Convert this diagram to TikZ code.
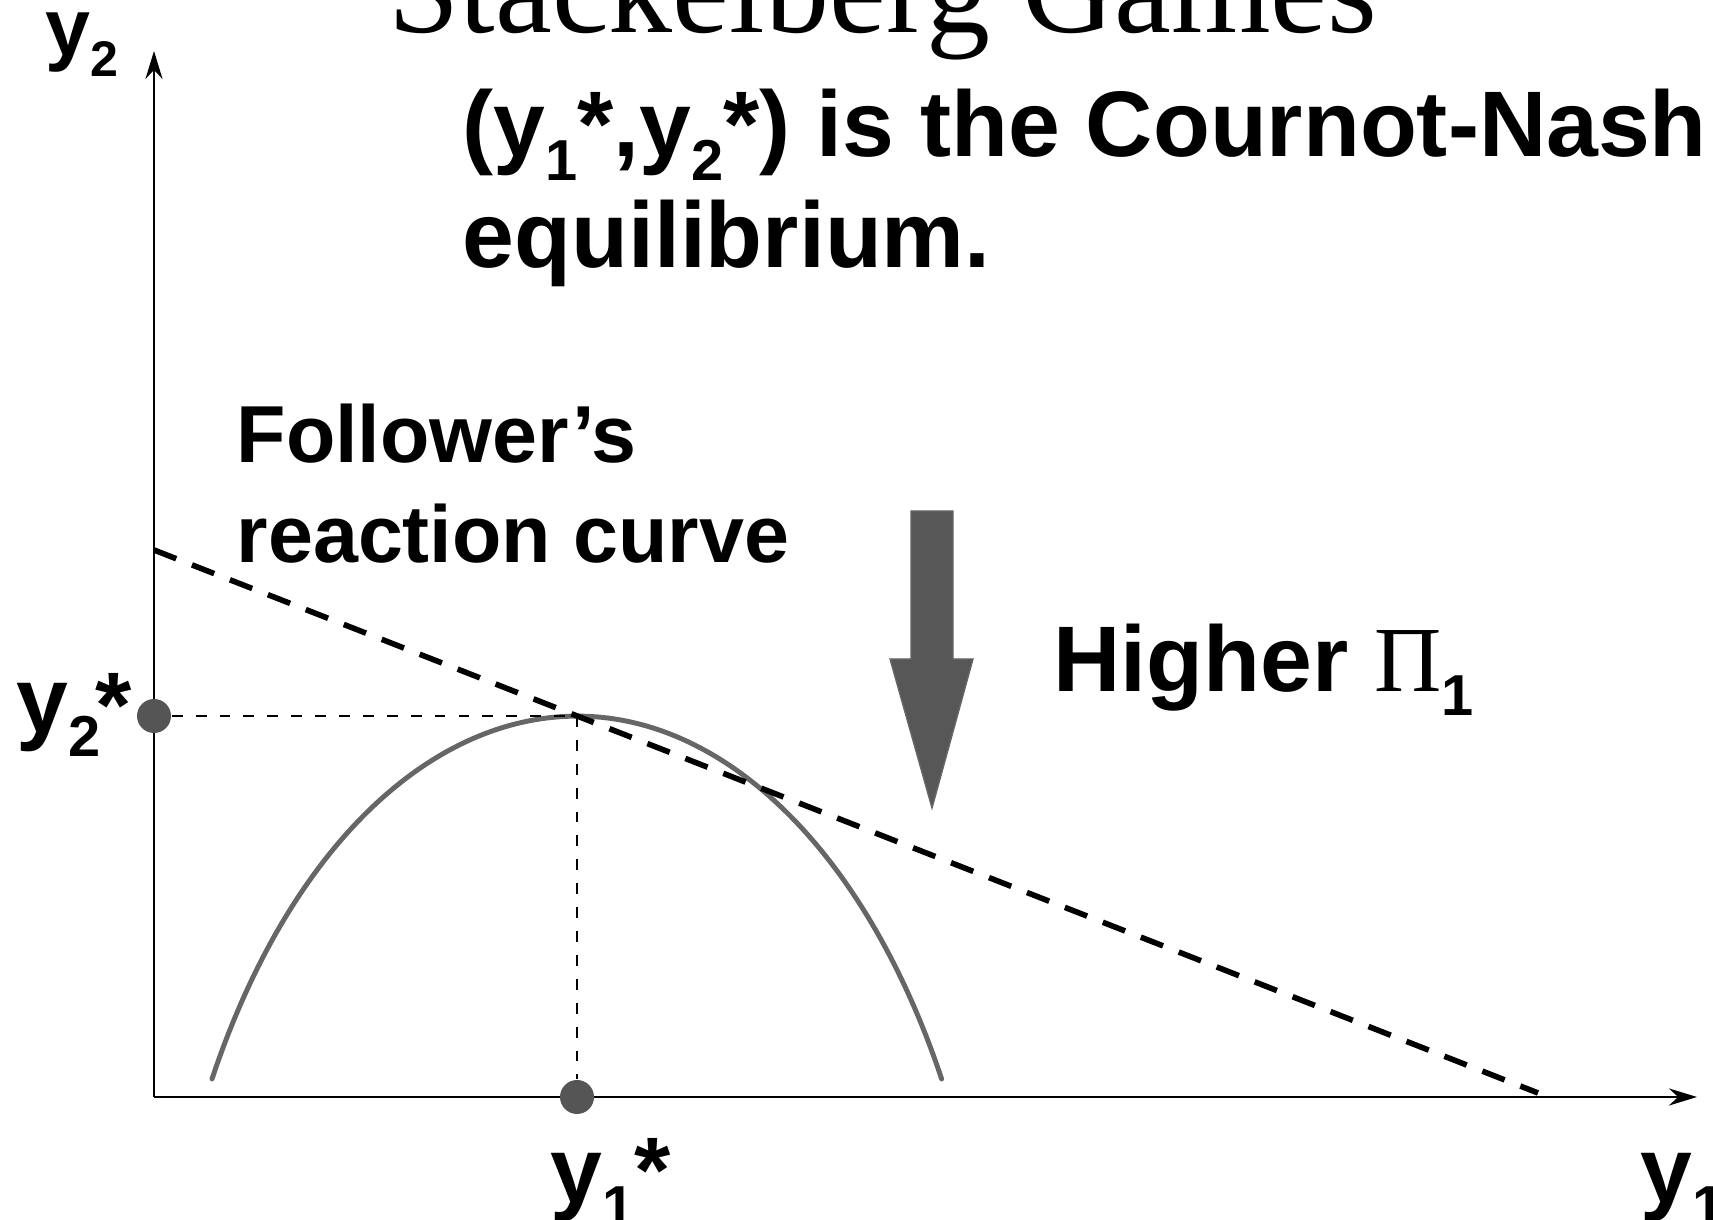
\documentclass[tikz,border=0pt]{standalone}
\usepackage{fontspec}
\setmainfont{Liberation Sans}
\newfontfamily\seriffont{Liberation Serif}
\usetikzlibrary{arrows.meta}
\definecolor{ink}{HTML}{000000}
\definecolor{dotgrey}{HTML}{555555}
\definecolor{curvegrey}{HTML}{666666}
\definecolor{shaftgrey}{HTML}{575757}
\newcommand{\dn}[1]{\raisebox{-.25em}{\scalebox{.62}{#1}}}

\begin{document}
\begin{tikzpicture}[text=ink,inner sep=0pt,
  >={Stealth[length=2.8mm,width=1.7mm]},
  big/.style={font=\fontsize{26.5}{31}\selectfont\bfseries,anchor=base west},
  small/.style={font=\fontsize{23}{27}\selectfont\bfseries,anchor=base west},
  dot/.style={circle,fill=dotgrey,minimum size=3.4mm},
  axis/.style={line width=.85pt,->},
  guide/.style={line width=.7pt,dash pattern=on 3.1pt off 3.7pt},
  react/.style={line width=1.6pt,dash pattern=on 6.8pt off 4.8pt},
  isoprofit/.style={curvegrey,line width=1.4pt,line cap=round}]
  \useasboundingbox (0,0) rectangle (17.13,12.19);
  \clip (0,0) rectangle (17.13,12.19);

  \node[font=\seriffont\fontsize{36.4}{40}\selectfont,anchor=base] (title)
    at (8.83,11.86) {Stackelberg Games};
  \node[big] (cn) at (4.62,10.62)
    {(y\dn{1}*,y\dn{2}*) is the Cournot-Nash};
  \node[big] (cn2) at (4.62,9.51) {equilibrium.};

  \coordinate (O) at (1.54,1.22);
  \coordinate (ytip) at (1.54,11.68);
  \coordinate (xtip) at (16.97,1.22);
  \draw[axis] (O) -- (ytip);
  \draw[axis] (O) -- (xtip);
  \node[small] (ylab) at (0.45,11.63) {y\dn{2}};
  \node[big] (xlab) at (16.40,0.16) {y\dn{1}};

  \coordinate (rA) at (1.54,6.69);
  \coordinate (rB) at (15.38,1.26);
  \coordinate (E) at (5.77,5.03);
  \draw[isoprofit] (2.12,1.40)
    arc[start angle=150.3,end angle=29.7,x radius=4.2,y radius=7.19];
  \draw[react] (rA) -- (rB);

  \node[dot] (y2s) at (1.54,5.03) {};
  \node[dot] (y1s) at (5.77,1.22) {};
  \draw[guide] (y2s) -- (E);
  \draw[guide] (E) -- (y1s);
  \node[big] (y2lab) at (0.16,4.86) {y\dn{2}\kern-.05em\raisebox{-.05em}{*}};
  \node[big] (y1lab) at (5.50,0.16) {y\dn{1}*};

  \node[small] (fol) at (2.36,7.56) {Follower’s};
  \node[small] (fol2) at (2.36,6.56) {reaction curve};

  \filldraw[fill=shaftgrey,draw=curvegrey,line width=.4pt]
    (9.11,7.08) -- (9.53,7.08) -- (9.53,5.60) -- (9.73,5.60)
    -- (9.32,4.11) -- (8.90,5.60) -- (9.11,5.60) -- cycle;
  \node[big] (hi) at (10.53,5.27)
    {Higher {\seriffont\mdseries Π}\dn{1}};
\end{tikzpicture}
\end{document}
